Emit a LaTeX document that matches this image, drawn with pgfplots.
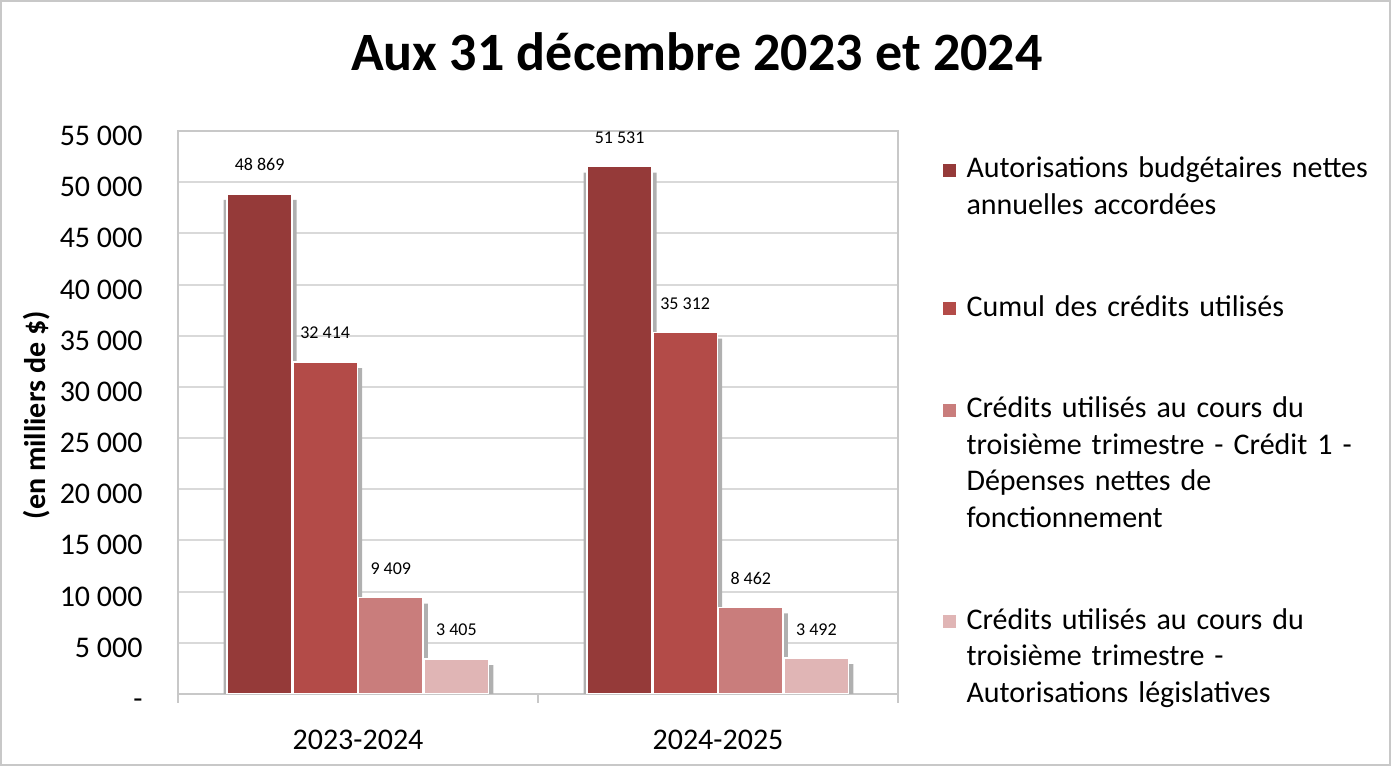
\documentclass[border=0pt]{standalone}
\usepackage{fontspec}
\setmainfont{Carlito}
\usepackage{pgfplots}
\usepackage{pgfplotstable}
\pgfplotsset{compat=1.18}
\definecolor{cA}{HTML}{953A39}
\definecolor{cB}{HTML}{B34B48}
\definecolor{cC}{HTML}{C97D7C}
\definecolor{cD}{HTML}{E0B5B5}
\definecolor{gridc}{HTML}{D9D9D9}
\definecolor{axc}{HTML}{C8C8C8}
\definecolor{shad}{HTML}{B0B0B0}
\pgfplotsset{limg/.style={legend image code/.code={\fill[##1] (0pt,0pt) rectangle (7.5pt,7.5pt);\path (0pt,-#1);}}}

\pgfplotstableread{
x y
0 48869
1 51531
}\serA
\pgfplotstableread{
x y
0 32414
1 35312
}\serB
\pgfplotstableread{
x y
0 9409
1 8462
}\serC
\pgfplotstableread{
x y
0 3405
1 3492
}\serD

\begin{document}
\begin{tikzpicture}
\pgfkeys{/pgf/number format/.cd,1000 sep={\ },assume math mode=true}
\begin{axis}[
  at={(0pt,0pt)}, anchor=south west,
  width=360pt, height=281.5pt, scale only axis,
  xmin=-0.5, xmax=1.5, ymin=0, ymax=55000,
  enlargelimits=false,
  scaled y ticks=false,
  ybar, bar width=32.3pt,
  xtick={0,1}, xticklabels={2023-2024,2024-2025},
  minor xtick={-0.5,0.5,1.5},
  xtick pos=bottom, ytick pos=left,
  major tick length=0pt, minor tick length=4.5pt,
  tick align=outside,
  tick style={axc, line width=1pt},
  ytick={0,5000,10000,15000,20000,25000,30000,35000,40000,45000,50000,55000},
  yticklabels={-,5 000,10 000,15 000,20 000,25 000,30 000,35 000,40 000,45 000,50 000,55 000},
  ymajorgrids=true,
  grid style={gridc, line width=1pt},
  axis line style={axc, line width=1pt},
  tick label style={font=\fontsize{15}{18}\selectfont},
  yticklabel style={anchor=east, inner sep=0pt, text height=9.5pt, text depth=0pt, xshift=-17.5pt, yshift=-2.5pt},
  xticklabel style={anchor=center, inner sep=0pt, yshift=-23pt},
  ylabel={(en milliers de \$)},
  every axis y label/.style={at={(rel axis cs:-0.1958,0.495)}, rotate=90, anchor=center, font=\bfseries\fontsize{15}{18}\selectfont},
  title={Aux 31 décembre 2023 et 2024},
  every axis title shift=0pt,
  title style={at={(rel axis cs:0.7208,1.1083)}, anchor=base, inner sep=0pt, font=\bfseries\fontsize{27}{32}\selectfont},
  legend style={at={(rel axis cs:1.0597,0.962)}, anchor=north west, draw=none, fill=none,
    inner sep=0pt, outer sep=0pt, row sep=32.25pt, column sep=4.5pt,
    font=\fontsize{15}{18.25}\selectfont,
    cells={anchor=base west},
    nodes={text width=205pt, align=left, inner sep=0pt}},
  lbl/.style={nodes near coords, nodes near coords style={font=\fontsize{9}{11}\selectfont, anchor=center, yshift=14.5pt, text=black}},
]
% shadows
\addplot[fill=shad, draw=none, bar width=36.5pt, bar shift=-48.95pt, yshift=-3pt, forget plot] table[x=x,y=y]{\serA};
\addplot[fill=shad, draw=none, bar width=36.5pt, bar shift=-16.15pt, yshift=-3pt, forget plot] table[x=x,y=y]{\serB};
\addplot[fill=shad, draw=none, bar width=36.5pt, bar shift=16.65pt, yshift=-3pt, forget plot] table[x=x,y=y]{\serC};
\addplot[fill=shad, draw=none, bar width=36.5pt, bar shift=49.45pt, yshift=-3pt, forget plot] table[x=x,y=y]{\serD};
% bars
\addplot[fill=cA, draw=white, line width=0.8pt, bar shift=-49.2pt, lbl, limg=23.7pt] table[x=x,y=y]{\serA};
\addlegendentry{\strut Autorisations budgétaires nettes\\annuelles accordées\strut}
\addplot[fill=cB, draw=white, line width=0.8pt, bar shift=-16.4pt, lbl, limg=5.475pt] table[x=x,y=y]{\serB};
\addlegendentry{\strut Cumul des crédits utilisés\strut}
\addplot[fill=cC, draw=white, line width=0.8pt, bar shift=16.4pt, lbl, limg=60.2pt] table[x=x,y=y]{\serC};
\addlegendentry{\strut Crédits utilisés au cours du\\troisième trimestre - Crédit 1 -\\Dépenses nettes de\\fonctionnement\strut}
\addplot[fill=cD, draw=white, line width=0.8pt, bar shift=49.2pt, lbl, limg=41.9pt] table[x=x,y=y]{\serD};
\addlegendentry{\strut Crédits utilisés au cours du\\troisième trimestre -\\Autorisations législatives\strut}
\end{axis}
\draw[axc, line width=1.2pt] (-88.4pt,-35.6pt) rectangle (606.1pt,346.4pt);
\useasboundingbox (-89pt,-38pt) rectangle (608pt,347pt);
\end{tikzpicture}
\end{document}
